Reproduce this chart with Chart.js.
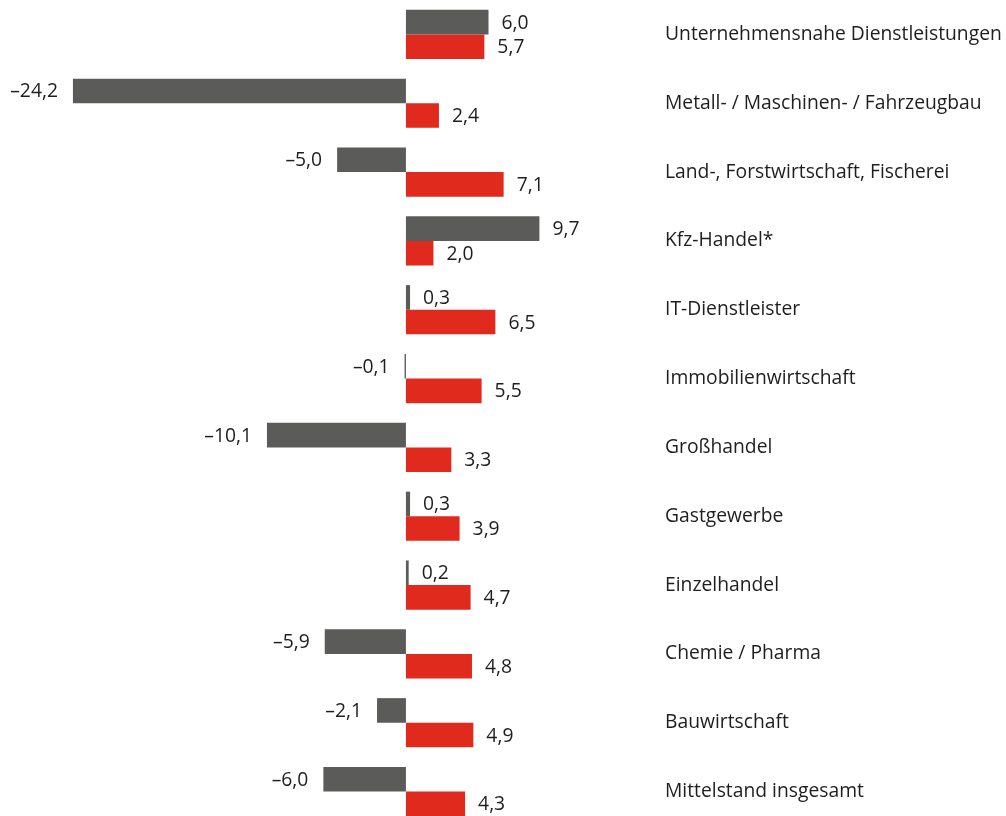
<!DOCTYPE html>
<html lang="de">
<head>
<meta charset="utf-8">
<script src="https://cdn.jsdelivr.net/npm/chart.js@4/dist/chart.umd.min.js"></script>
<style>
  html, body { margin: 0; padding: 0; background: #fff; overflow: hidden; }
  #wrap { position: relative; width: 1006px; height: 826px; }
</style>
</head>
<body>
<div id="wrap"><canvas id="grafico"></canvas></div>
<script>
const branchen = [
  'Unternehmensnahe Dienstleistungen',
  'Metall- / Maschinen- / Fahrzeugbau',
  'Land-, Forstwirtschaft, Fischerei',
  'Kfz-Handel*',
  'IT-Dienstleister',
  'Immobilienwirtschaft',
  'Großhandel',
  'Gastgewerbe',
  'Einzelhandel',
  'Chemie / Pharma',
  'Bauwirtschaft',
  'Mittelstand insgesamt'
];
const werteGrau = [6.0, -24.2, -5.0, 9.7, 0.3, -0.1, -10.1, 0.3, 0.2, -5.9, -2.1, -6.0];
const werteRot = [5.7, 2.4, 7.1, 2.0, 6.5, 5.5, 3.3, 3.9, 4.7, 4.8, 4.9, 4.3];

const schrift = '"Open Sans", "Noto Sans", sans-serif';
const schriftGroesse = 19.3;
const textFarbe = '#1e1e1e';

function formatiere(v) {
  return (v < 0 ? '\u2013' : '') + Math.abs(v).toFixed(1).replace('.', ',');
}

// Werte neben die Balken schreiben
const werteLabels = {
  id: 'werteLabels',
  afterDatasetsDraw(chart) {
    const ctx = chart.ctx;
    ctx.save();
    ctx.font = schriftGroesse + 'px ' + schrift;
    ctx.fillStyle = textFarbe;
    ctx.textBaseline = 'middle';
    chart.data.datasets.forEach((ds, i) => {
      chart.getDatasetMeta(i).data.forEach((bar, j) => {
        const v = ds.data[j];
        if (v < 0) {
          ctx.textAlign = 'right';
          ctx.fillText(formatiere(v), bar.x - 15, bar.y + 1);
        } else {
          ctx.textAlign = 'left';
          ctx.fillText(formatiere(v), bar.x + 13, bar.y + 1);
        }
      });
    });
    ctx.restore();
  }
};

new Chart(document.getElementById('grafico').getContext('2d'), {
  type: 'bar',
  data: {
    labels: branchen,
    datasets: [
      {
        label: 'Vorjahr',
        data: werteGrau,
        backgroundColor: '#5b5b59',
        categoryPercentage: 0.715,
        barPercentage: 1
      },
      {
        label: 'Aktuell',
        data: werteRot,
        backgroundColor: '#e02a1d',
        categoryPercentage: 0.715,
        barPercentage: 1
      }
    ]
  },
  options: {
    indexAxis: 'y',
    responsive: true,
    maintainAspectRatio: false,
    animation: false,
    layout: { padding: 0 },
    plugins: {
      legend: { display: false },
      tooltip: { enabled: false }
    },
    scales: {
      x: {
        display: false,
        min: -29.5,
        max: 18.1
      },
      y: {
        position: 'right',
        grid: { display: false, drawTicks: false },
        border: { display: false },
        ticks: {
          color: textFarbe,
          padding: 10,
          font: { family: schrift, size: schriftGroesse }
        },
        afterFit: s => {
          s.width = 351;
          s.paddingTop = 0;
          s.paddingBottom = 0;
        }
      }
    }
  },
  plugins: [werteLabels]
});
</script>
</body>
</html>
